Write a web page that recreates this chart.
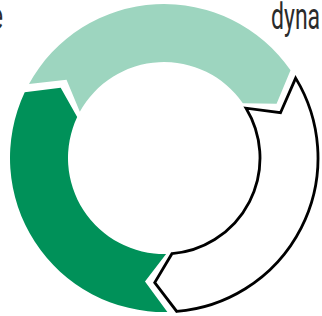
<!DOCTYPE html>
<html>
<head>
<meta charset="utf-8">
<script src="https://cdn.jsdelivr.net/npm/d3@7"></script>
<style>
  body { margin: 0; background: #fff; }
  svg { display: block; }
</style>
</head>
<body>
<div id="chart"></div>
<script>
// cycle steps, equal shares
var steps = ["a", "b", "c"];
var values = [1, 1, 1];
var colors = ["#9dd5bf", "#ffffff", "#009159"];
var strokes = ["none", "#000", "none"];
// partly visible outer labels
var labels = ["e", "dyna"];

var width = 322,
  height = 316;

var cx = 164, cy = 158,
  outerR = 154, innerR = 96,
  midR = (outerR + innerR) / 2;

var rad = Math.PI / 180;
var gap = 3.5 * rad,
  tip = 9 * rad,
  notch = 10 * rad;

var svg = d3
  .select("#chart")
  .append("svg")
  .attr("width", width)
  .attr("height", height);

var pie = d3
  .pie()
  .sort(null)
  .startAngle(-63 * rad)
  .endAngle(297 * rad);

var arcs = pie(values);

function pt(r, a) {
  return [r * Math.sin(a), -r * Math.cos(a)];
}

function arrowPath(d) {
  var s = d.startAngle + gap / 2,
    e = d.endAngle - gap / 2;
  var p = d3.path();
  var o = pt(outerR, s);
  p.moveTo(o[0], o[1]);
  p.arc(0, 0, outerR, s - Math.PI / 2, e - Math.PI / 2);
  var t = pt(midR, e + tip);
  p.lineTo(t[0], t[1]);
  var i = pt(innerR, e);
  p.lineTo(i[0], i[1]);
  p.arc(0, 0, innerR, e - Math.PI / 2, s - Math.PI / 2, true);
  var n = pt(midR, s + notch);
  p.lineTo(n[0], n[1]);
  p.closePath();
  return p.toString();
}

var g = svg.append("g").attr("transform", "translate(" + cx + "," + cy + ")");

g.selectAll("path")
  .data(arcs)
  .enter()
  .append("path")
  .attr("d", arrowPath)
  .attr("fill", function(d, i) { return colors[i]; })
  .attr("stroke", function(d, i) { return strokes[i]; })
  .attr("stroke-width", 2.8)
  .attr("stroke-linejoin", "miter");

// labels, condensed look
svg.append("text")
  .attr("transform", "translate(3,29) scale(0.64,1)")
  .attr("text-anchor", "end")
  .attr("font-family", "Roboto, sans-serif")
  .attr("font-size", 36)
  .attr("fill", "#2b2b2b")
  .text(labels[0]);

svg.append("text")
  .attr("transform", "translate(271,29) scale(0.64,1)")
  .attr("font-family", "Roboto, sans-serif")
  .attr("font-size", 36)
  .attr("fill", "#2b2b2b")
  .text(labels[1]);
</script>
</body>
</html>
